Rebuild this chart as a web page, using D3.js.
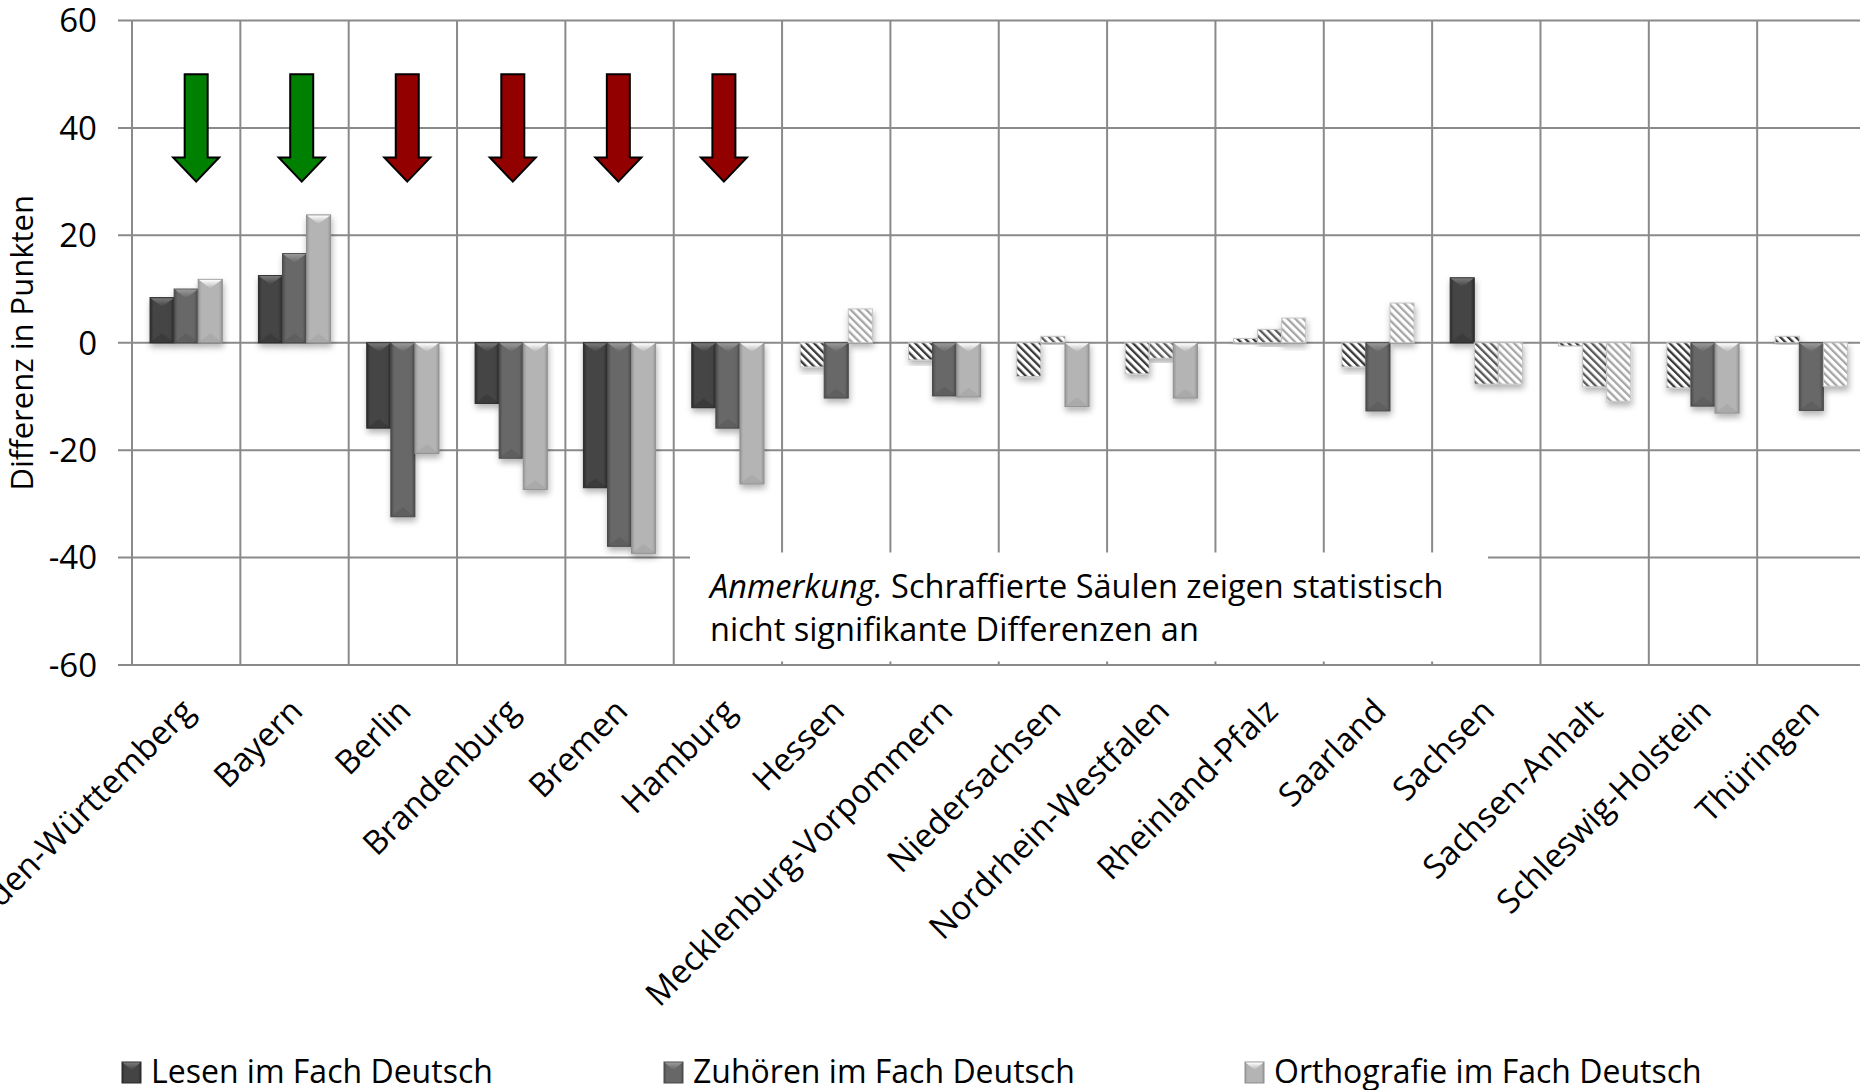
<!DOCTYPE html>
<html>
<head>
<meta charset="utf-8">
<script src="https://cdn.jsdelivr.net/npm/d3@7"></script>
<style>
  body { margin: 0; background: #fff; }
  svg { display: block; font-family: "Open Sans", sans-serif; }
</style>
</head>
<body>
<div id="chart"></div>
<script>
// data
var states = ["Baden-Württemberg", "Bayern", "Berlin", "Brandenburg", "Bremen", "Hamburg",
  "Hessen", "Mecklenburg-Vorpommern", "Niedersachsen", "Nordrhein-Westfalen", "Rheinland-Pfalz",
  "Saarland", "Sachsen", "Sachsen-Anhalt", "Schleswig-Holstein", "Thüringen"];

var lesen    = [8.4, 12.5, -15.9, -11.3, -27.0, -12.1, -4.5, -3.2, -6.3, -5.8, 0.8, -4.5, 12.1, -0.6, -8.4, 1.2];
var zuhoeren = [10.0, 16.6, -32.4, -21.5, -37.9, -15.9, -10.3, -9.9, 1.2, -2.9, 2.5, -12.7, -7.7, -8.2, -11.8, -12.6];
var ortho    = [11.8, 23.8, -20.6, -27.3, -39.2, -26.3, 6.3, -10.1, -11.9, -10.3, 4.6, 7.4, -7.7, -10.9, -13.1, -8.1];

// 1 = significant (solid), 0 = not significant (hatched)
var lesenSig    = [1, 1, 1, 1, 1, 1, 0, 0, 0, 0, 0, 0, 1, 0, 0, 0];
var zuhoerenSig = [1, 1, 1, 1, 1, 1, 1, 1, 0, 0, 0, 1, 0, 0, 1, 1];
var orthoSig    = [1, 1, 1, 1, 1, 1, 0, 1, 1, 1, 0, 0, 0, 0, 1, 0];

var seriesNames = ["Lesen im Fach Deutsch", "Zuhören im Fach Deutsch", "Orthografie im Fach Deutsch"];

var arrowStates = ["Baden-Württemberg", "Bayern", "Berlin", "Brandenburg", "Bremen", "Hamburg"];
var arrowColors = ["#008000", "#008000", "#930000", "#930000", "#930000", "#930000"];
var arrowFrom = 50, arrowHeadAt = 34.5, arrowTo = 30;

var yTicks = [-60, -40, -20, 0, 20, 40, 60];

var svgWidth = 1860;
var svgHeight = 1090;

var margin = { top: 20.5, right: -5.5, bottom: 425, left: 132 };
var width = svgWidth - margin.left - margin.right;
var height = svgHeight - margin.top - margin.bottom;

var svg = d3.select("#chart")
  .append("svg")
  .attr("width", svgWidth)
  .attr("height", svgHeight);

svg.append("rect").attr("width", svgWidth).attr("height", svgHeight).attr("fill", "#fff");

var chartGroup = svg.append("g")
  .attr("transform", `translate(${margin.left}, ${margin.top})`);

var xScale = d3.scaleBand().domain(states).range([0, width]);
var yScale = d3.scaleLinear().domain([-60, 60]).range([height, 0]);

var band = xScale.bandwidth();
var barW = band / 4.5;

var series = [
  { name: seriesNames[0], values: lesen, sig: lesenSig, base: "#444444", edge: "#2c2c2c", hi: "#7a7a7a", hatch: "#383838", stroke: "#2a2a2a" },
  { name: seriesNames[1], values: zuhoeren, sig: zuhoerenSig, base: "#676767", edge: "#4c4c4c", hi: "#9a9a9a", hatch: "#5a5a5a", stroke: "#4a4a4a" },
  { name: seriesNames[2], values: ortho, sig: orthoSig, base: "#b4b4b4", edge: "#979797", hi: "#ffffff", hatch: "#a6a6a6", stroke: "#8f8f8f" }
];

// defs: gradients, hatch patterns, shadow
var defs = svg.append("defs");
var shadow = defs.append("filter").attr("id", "shadow")
  .attr("x", "-30%").attr("y", "-30%").attr("width", "160%").attr("height", "160%");
shadow.append("feDropShadow")
  .attr("dx", 1).attr("dy", 4).attr("stdDeviation", 3)
  .attr("flood-color", "#000").attr("flood-opacity", 0.3);

series.forEach(function(s, i) {
  var g = defs.append("linearGradient").attr("id", "side" + i)
    .attr("x1", 0).attr("x2", 1).attr("y1", 0).attr("y2", 0);
  g.append("stop").attr("offset", 0).attr("stop-color", s.edge);
  g.append("stop").attr("offset", 0.14).attr("stop-color", s.base);
  g.append("stop").attr("offset", 0.86).attr("stop-color", s.base);
  g.append("stop").attr("offset", 1).attr("stop-color", s.edge);

  var t = defs.append("linearGradient").attr("id", "top" + i)
    .attr("x1", 0).attr("x2", 0).attr("y1", 0).attr("y2", 1);
  t.append("stop").attr("offset", 0).attr("stop-color", s.hi);
  t.append("stop").attr("offset", 1).attr("stop-color", s.base);

  var p = defs.append("pattern").attr("id", "hatch" + i)
    .attr("patternUnits", "userSpaceOnUse")
    .attr("width", 5.5).attr("height", 5.5)
    .attr("patternTransform", "rotate(-45)");
  p.append("rect").attr("width", 5.5).attr("height", 5.5).attr("fill", "#fff");
  p.append("rect").attr("width", 2.3).attr("height", 5.5).attr("fill", s.hatch);
});

// gridlines
chartGroup.append("g").selectAll("line")
  .data(yTicks)
  .enter()
  .append("line")
  .attr("x1", -14).attr("x2", width)
  .attr("y1", d => yScale(d)).attr("y2", d => yScale(d))
  .attr("stroke", "#8a8a8a").attr("stroke-width", 2);

chartGroup.append("g").selectAll("line")
  .data(states)
  .enter()
  .append("line")
  .attr("x1", d => xScale(d)).attr("x2", d => xScale(d))
  .attr("y1", 0).attr("y2", height)
  .attr("stroke", "#8a8a8a").attr("stroke-width", 2);

// y tick labels
chartGroup.append("g").selectAll("text")
  .data(yTicks)
  .enter()
  .append("text")
  .attr("x", -35)
  .attr("y", d => yScale(d))
  .attr("dy", "0.36em")
  .attr("text-anchor", "end")
  .attr("font-size", "33px")
  .attr("fill", "#000")
  .text(d => d);

// y title
svg.append("text")
  .attr("transform", `translate(33, ${margin.top + yScale(0)}) rotate(-90)`)
  .attr("text-anchor", "middle")
  .attr("font-size", "31px")
  .text("Differenz in Punkten");

// note box covering the grid
var note = chartGroup.append("g");
note.append("rect")
  .attr("x", 558).attr("y", 532).attr("width", 798).attr("height", 109)
  .attr("fill", "#fff");
var noteText = note.append("text").attr("x", 578).attr("y", 577).attr("font-size", "32.5px");
noteText.append("tspan").attr("font-style", "italic").text("Anmerkung.");
noteText.append("tspan").text(" Schraffierte Säulen zeigen statistisch");
note.append("text").attr("x", 578).attr("y", 620).attr("font-size", "32.5px")
  .text("nicht signifikante Differenzen an");

// bars
function drawBar(g, x0, v, s, i, sig) {
  var yTop = yScale(Math.max(v, 0));
  var yBot = yScale(Math.min(v, 0));
  var h = Math.max(yBot - yTop, 1);
  var bg = g.append("g").attr("filter", "url(#shadow)");
  if (sig) {
    bg.append("rect")
      .attr("x", x0).attr("y", yTop).attr("width", barW).attr("height", h)
      .attr("fill", `url(#side${i})`)
      .attr("stroke", s.stroke).attr("stroke-width", 1);
    var tri = Math.min(barW * 0.38, h);
    bg.append("path")
      .attr("d", `M${x0 + 0.5},${yTop + 0.5}L${x0 + barW - 0.5},${yTop + 0.5}L${x0 + barW / 2},${yTop + tri}Z`)
      .attr("fill", `url(#top${i})`);
    if (h > barW) {
      bg.append("path")
        .attr("d", `M${x0 + 0.5},${yBot - 0.5}L${x0 + barW - 0.5},${yBot - 0.5}L${x0 + barW / 2},${yBot - tri}Z`)
        .attr("fill", s.edge).attr("opacity", 0.35);
    }
  } else {
    bg.append("rect")
      .attr("x", x0).attr("y", yTop).attr("width", barW).attr("height", h)
      .attr("fill", `url(#hatch${i})`)
      .attr("stroke", "#c4c4c4").attr("stroke-width", 1);
  }
}

var barsGroup = chartGroup.append("g");
series.forEach(function(s, i) {
  states.forEach(function(st, j) {
    var x0 = xScale(st) + (band - 3 * barW) / 2 + i * barW;
    drawBar(barsGroup, x0, s.values[j], s, i, s.sig[j]);
  });
});

// arrows (hand-placed in the original, spaced a bit tighter than the columns)
var shaftW = 23, headW = 46;
var arrowScale = d3.scalePoint().domain(arrowStates)
  .range([xScale(arrowStates[0]) + band / 2 + 10, xScale(arrowStates[arrowStates.length - 1]) + band / 2 - 4]);
chartGroup.append("g").selectAll("path")
  .data(arrowStates)
  .enter()
  .append("path")
  .attr("d", function(d) {
    var cx = arrowScale(d);
    var y0 = yScale(arrowFrom), y1 = yScale(arrowHeadAt), y2 = yScale(arrowTo);
    return `M${cx - shaftW / 2},${y0}L${cx + shaftW / 2},${y0}L${cx + shaftW / 2},${y1}` +
      `L${cx + headW / 2},${y1}L${cx},${y2}L${cx - headW / 2},${y1}L${cx - shaftW / 2},${y1}Z`;
  })
  .attr("fill", (d, k) => arrowColors[k])
  .attr("stroke", "#000").attr("stroke-width", 2)
  .attr("stroke-linejoin", "miter");

// x labels
chartGroup.append("g").selectAll("text")
  .data(states)
  .enter()
  .append("text")
  .attr("transform", d => `translate(${xScale(d) + band / 2 + 10}, ${height + 48}) rotate(-45)`)
  .attr("text-anchor", "end")
  .attr("font-size", "33px")
  .text(d => d);

// legend
var legendX = [122, 664, 1245];
var legend = svg.append("g").selectAll("g")
  .data(series)
  .enter()
  .append("g")
  .attr("transform", (d, i) => `translate(${legendX[i]}, 1062)`);

legend.append("rect")
  .attr("width", 19).attr("height", 21)
  .attr("fill", (d, i) => `url(#side${i})`)
  .attr("stroke", d => d.stroke).attr("stroke-width", 1);
legend.append("path")
  .attr("d", "M0.5,0.5L18.5,0.5L9.5,8Z")
  .attr("fill", (d, i) => `url(#top${i})`);
legend.append("text")
  .attr("x", 29).attr("y", 21)
  .attr("font-size", "32px")
  .text(d => d.name);
</script>
</body>
</html>
